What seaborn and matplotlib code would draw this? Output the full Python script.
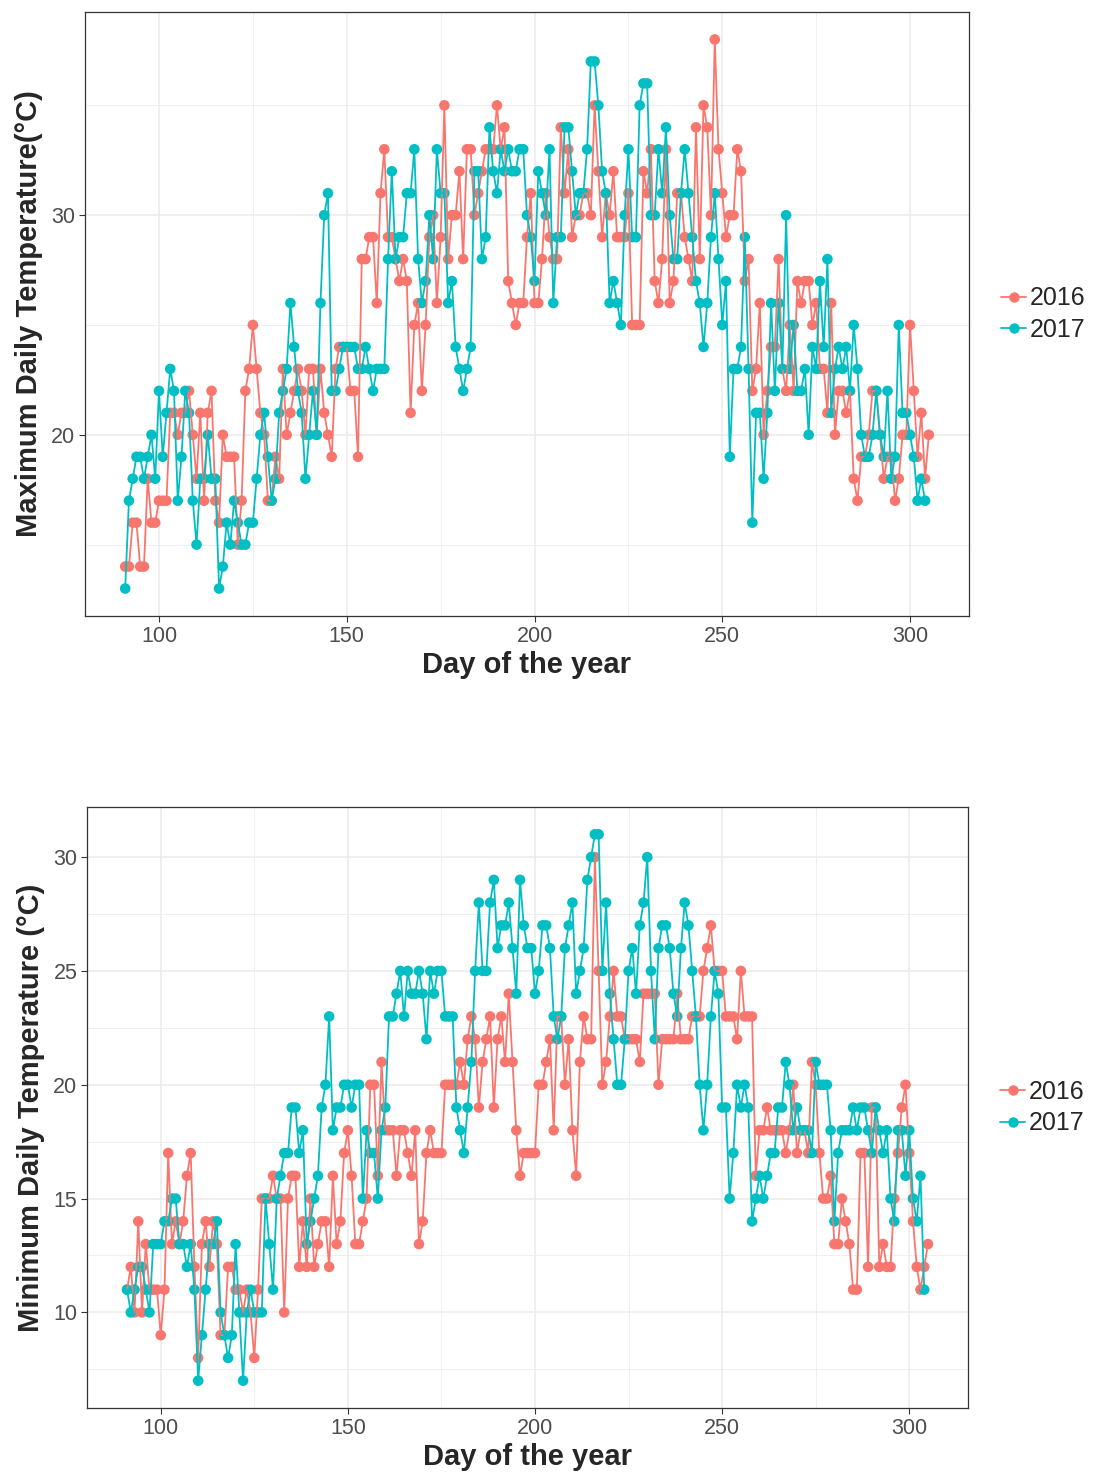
import matplotlib
matplotlib.use("Agg")
import matplotlib.pyplot as plt
from matplotlib.lines import Line2D
from matplotlib.ticker import MultipleLocator
import numpy as np
import pandas as pd
import seaborn as sns

# daily values, first value is day 91
max_2016 = [14, 14, 16, 16, 14, 14, 18, 16, 16, 17,
            17, 17, 21, 21, 20, 21, 21, 22, 20, 18,
            21, 17, 21, 22, 17, 16, 20, 19, 19, 19,
            15, 17, 22, 23, 25, 23, 21,
            20, 17, 17, 19, 18, 23, 20, 21, 22, 23,
            22, 20, 23, 23, 20, 23, 21, 20, 19, 23,
            24, 24, 24, 22, 22, 19, 28, 28, 29, 29,
            26, 31, 33, 29, 29, 28,
            27, 28, 27, 21, 25, 26, 22, 25, 29, 30,
            26, 29, 35, 28, 30, 30, 32, 28, 33, 33,
            30, 31, 32, 33, 33, 33, 35, 33, 34, 27,
            26, 25, 26, 26, 29,
            31, 26, 26, 28, 31, 29, 28, 28, 34, 31,
            33, 29, 30, 30, 31, 31, 30, 35, 32, 29,
            31, 30, 32, 29, 29, 29, 31, 25, 25, 25,
            32, 31, 33, 27, 26, 28,
            33, 26, 27, 31, 31, 29, 28, 27, 34, 28,
            35, 34, 30, 38, 33, 31, 29, 30, 30, 33,
            32, 27, 28, 22, 23, 26, 20, 22, 24, 24,
            28, 23, 22, 25, 22, 27,
            26, 27, 27, 25, 26, 23, 23, 21, 26, 20,
            22, 22, 21, 22, 18, 17, 19, 19, 20, 22,
            22, 20, 18, 19, 19, 17, 18, 20, 20, 25,
            22, 19, 21, 18, 20]

max_2017 = [13, 17, 18, 19, 19, 18, 19, 20, 18, 22,
            19, 21, 23, 22, 17, 19, 22, 21, 17, 15,
            18, 18, 20, 18, 18, 13, 14, 16, 15, 17,
            16, 15, 15, 16, 16, 18, 20,
            21, 19, 17, 18, 21, 22, 23, 26, 24, 22,
            21, 18, 20, 22, 20, 26, 30, 31, 22, 22,
            23, 24, 24, 24, 24, 23, 23, 24, 23, 22,
            23, 23, 23, 28, 32, 28,
            29, 29, 31, 31, 33, 28, 26, 27, 30, 28,
            33, 31, 31, 26, 27, 24, 23, 22, 23, 24,
            32, 32, 28, 29, 34, 32, 31, 33, 32, 33,
            32, 32, 33, 33, 30,
            29, 27, 32, 31, 30, 33, 26, 29, 29, 34,
            34, 32, 30, 31, 31, 33, 37, 37, 35, 32,
            31, 26, 27, 26, 25, 30, 33, 29, 29, 35,
            36, 36, 30, 30, 33, 31,
            34, 30, 28, 28, 31, 33, 31, 29, 27, 26,
            24, 26, 29, 31, 28, 25, 27, 19, 23, 23,
            24, 29, 23, 16, 21, 21, 18, 21, 26, 22,
            26, 23, 30, 23, 25, 22,
            22, 23, 20, 24, 23, 27, 24, 28, 21, 23,
            24, 23, 24, 22, 25, 23, 20, 19, 19, 20,
            22, 20, 19, 22, 18, 19, 25, 21, 21, 20,
            19, 17, 18, 17]

min_2016 = [11, 12, 10, 14, 10, 13, 11, 11, 11, 9,
            11, 17, 13, 14, 13, 14, 16, 17, 12, 8,
            13, 14, 12, 14, 13, 9, 9, 12, 12, 11,
            11, 10, 11, 10, 8, 11, 15,
            15, 15, 16, 15, 15, 10, 15, 16, 16, 12,
            14, 12, 15, 12, 13, 14, 14, 12, 16, 13,
            14, 17, 18, 16, 13, 13, 14, 15, 20, 20,
            16, 21, 18, 18, 18, 16,
            18, 18, 17, 16, 18, 13, 14, 17, 18, 17,
            17, 17, 20, 20, 20, 20, 21, 20, 22, 23,
            22, 19, 21, 22, 23, 19, 22, 23, 21, 24,
            21, 18, 16, 17, 17,
            17, 17, 20, 20, 21, 22, 18, 23, 23, 20,
            22, 18, 16, 21, 23, 22, 22, 30, 25, 20,
            21, 23, 25, 23, 23, 22, 22, 22, 22, 21,
            24, 24, 24, 24, 20, 22,
            22, 22, 22, 24, 22, 22, 22, 23, 23, 23,
            25, 26, 27, 25, 25, 25, 23, 23, 23, 22,
            25, 23, 23, 23, 16, 18, 18, 19, 18, 18,
            18, 18, 17, 18, 20, 17,
            18, 18, 17, 21, 20, 17, 15, 15, 16, 13,
            13, 15, 14, 13, 11, 11, 17, 17, 12, 19,
            19, 12, 13, 12, 12, 15, 17, 19, 20, 17,
            14, 12, 11, 12, 13]

min_2017 = [11, 10, 11, 12, 12, 11, 10, 13, 13, 13,
            14, 14, 15, 15, 13, 13, 12, 13, 11, 7,
            9, 11, 13, 13, 14, 10, 9, 8, 9, 13,
            10, 7, 10, 11, 10, 10, 10,
            15, 13, 11, 15, 16, 17, 17, 19, 19, 17,
            18, 13, 14, 15, 16, 19, 20, 23, 18, 19,
            19, 20, 20, 19, 20, 20, 15, 18, 17, 17,
            15, 18, 19, 23, 23, 24,
            25, 23, 25, 24, 24, 25, 24, 22, 25, 24,
            25, 25, 23, 23, 23, 19, 18, 17, 19, 21,
            25, 28, 25, 25, 28, 29, 26, 27, 27, 28,
            26, 24, 29, 27, 26,
            26, 24, 25, 27, 27, 26, 23, 22, 23, 26,
            27, 28, 24, 25, 26, 29, 30, 31, 31, 25,
            28, 24, 22, 20, 20, 22, 25, 26, 24, 27,
            28, 30, 25, 22, 26, 27,
            27, 26, 24, 23, 26, 28, 27, 25, 23, 20,
            18, 20, 23, 25, 24, 19, 19, 15, 17, 20,
            19, 20, 19, 14, 15, 16, 15, 16, 17, 17,
            19, 19, 21, 20, 18, 19,
            18, 18, 18, 17, 21, 20, 20, 20, 18, 14,
            17, 18, 18, 18, 19, 18, 19, 19, 18, 17,
            19, 18, 17, 18, 15, 14, 18, 18, 16, 18,
            15, 14, 16, 11]

years = ["2016", "2017"]
palette = {"2016": "#F8766D", "2017": "#00BFC4"}


def long_frame(v16, v17):
    d16 = pd.DataFrame({"day": np.arange(91, 91 + len(v16)), "temp": v16, "year": "2016"})
    d17 = pd.DataFrame({"day": np.arange(91, 91 + len(v17)), "temp": v17, "year": "2017"})
    return pd.concat([d16, d17], ignore_index=True)


sns.set_style("white")
plt.rcParams["font.family"] = ["Liberation Sans", "DejaVu Sans"]

fig = plt.figure(figsize=(10.93, 14.77), dpi=100)
ax1 = fig.add_axes([85 / 1093, 1 - 616 / 1477, 884 / 1093, 604 / 1477])
ax2 = fig.add_axes([87 / 1093, 1 - 1408 / 1477, 881 / 1093, 601 / 1477])


def draw(ax, df, ylabel, ylim, ymajor):
    # lines first, then all points on top (like geom_line + geom_point)
    sns.lineplot(data=df, x="day", y="temp", hue="year", hue_order=years,
                 palette=palette, linewidth=1.3, errorbar=None, legend=False, ax=ax)
    sns.scatterplot(data=df, x="day", y="temp", hue="year", hue_order=years,
                    palette=palette, s=58, linewidth=0, legend=False, ax=ax)
    ax.set_xlim(80.3, 315.7)
    ax.set_ylim(*ylim)
    ax.xaxis.set_major_locator(MultipleLocator(50))
    ax.xaxis.set_minor_locator(MultipleLocator(25))
    ax.yaxis.set_major_locator(MultipleLocator(ymajor))
    ax.yaxis.set_minor_locator(MultipleLocator(ymajor / 2))
    ax.set_axisbelow(True)
    ax.grid(which="major", color="#EBEBEB", linewidth=1.1)
    ax.grid(which="minor", color="#EBEBEB", linewidth=0.55)
    ax.tick_params(which="major", bottom=True, left=True, length=4, width=0.8,
                   color="#333333", labelcolor="#4D4D4D", labelsize=15.5, pad=3)
    ax.tick_params(which="minor", length=0)
    for sp in ax.spines.values():
        sp.set_color("#333333")
        sp.set_linewidth(0.9)
    ax.set_xlabel("Day of the year", fontsize=21, fontweight="bold", labelpad=3)
    ax.set_ylabel(ylabel, fontsize=21, fontweight="bold", labelpad=6)
    handles = [Line2D([0], [0], color=palette[y], marker="o", markersize=7.5,
                      markeredgewidth=0, linewidth=1.3) for y in years]
    ax.legend(handles, years, loc="center left", bbox_to_anchor=(1.025, 0.5),
              frameon=False, fontsize=18, handlelength=1.0, handletextpad=0.15,
              labelspacing=0.3, borderaxespad=0)


draw(ax1, long_frame(max_2016, max_2017), "Maximum Daily Temperature(°C)", (11.75, 39.25), 10)
draw(ax2, long_frame(min_2016, min_2017), "Minimum Daily Temperature (°C)", (5.8, 32.2), 5)

fig.savefig("out.png", dpi=100)
